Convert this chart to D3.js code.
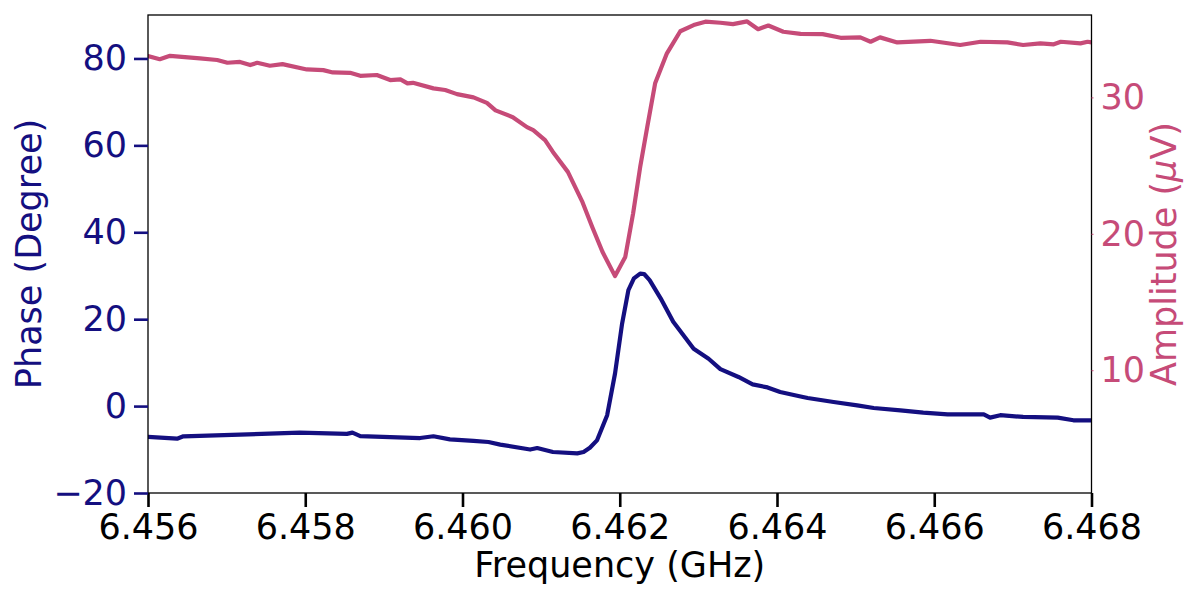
<!DOCTYPE html>
<html>
<head>
<meta charset="utf-8">
<script src="https://cdn.jsdelivr.net/npm/d3@7"></script>
<style>
  body { margin: 0; background: #ffffff; }
  text { font-family: "DejaVu Sans", sans-serif; }
</style>
</head>
<body>
<svg id="chart" width="1200" height="600"></svg>
<script>
// frequency (GHz) and phase (degree)
const phaseFreq = [6.45600, 6.45637, 6.45645, 6.45717, 6.45793, 6.45853, 6.45860, 6.45870, 6.45946,
  6.45963, 6.45984, 6.46014, 6.46033, 6.46048, 6.46086, 6.46095, 6.46115, 6.46146, 6.46154, 6.46162,
  6.46171, 6.46184, 6.46194, 6.46203, 6.46211, 6.46218, 6.46226, 6.46231, 6.46238, 6.46252, 6.46268,
  6.46294, 6.46313, 6.46328, 6.46351, 6.46369, 6.46388, 6.46404, 6.46430, 6.46439, 6.46472, 6.46502,
  6.46523, 6.46557, 6.46586, 6.46617, 6.46663, 6.46671, 6.46684, 6.46713, 6.46757, 6.46777, 6.46800]
const phaseVals = [-7.1, -7.5, -6.95, -6.56, -6.1, -6.4, -6.1, -6.9, -7.35,
  -6.95, -7.65, -8.0, -8.26, -8.86, -10.0, -9.65, -10.57, -10.87, -10.57, -9.6,
  -7.9, -2.1, 7.5, 19.0, 26.7, 29.4, 30.5, 30.4, 29.0, 24.8, 19.4,
  13.2, 10.9, 8.5, 6.7, 5.0, 4.3, 3.25, 2.2, 1.86, 0.94, 0.18,
  -0.44, -0.97, -1.5, -1.9, -1.9, -2.65, -2.1, -2.5, -2.65, -3.27, -3.27]

// frequency (GHz) and amplitude (uV)
const ampFreq = [6.45600, 6.45615, 6.45628, 6.45666, 6.45688, 6.45701, 6.45717, 6.45730, 6.45739,
  6.45755, 6.45771, 6.45802, 6.45823, 6.45835, 6.45857, 6.45870, 6.45891, 6.45908, 6.45921, 6.45930,
  6.45937, 6.45963, 6.45978, 6.45993, 6.46014, 6.46031, 6.46042, 6.46064, 6.46082, 6.46090, 6.46105,
  6.46115, 6.46134, 6.46152, 6.46165, 6.46178, 6.46194, 6.46207, 6.46217, 6.46226, 6.46235, 6.46245,
  6.46260, 6.46277, 6.46294, 6.46309, 6.46328, 6.46344, 6.46362, 6.46376, 6.46389, 6.46408, 6.46430,
  6.46458, 6.46481, 6.46506, 6.46519, 6.46531, 6.46553, 6.46595, 6.46633, 6.46659, 6.46693, 6.46713,
  6.46735, 6.46752, 6.46761, 6.46786, 6.46795, 6.46800]
const ampVals = [33.03, 32.8, 33.05, 32.86, 32.74, 32.54, 32.6, 32.37, 32.54,
  32.32, 32.44, 32.05, 32.0, 31.83, 31.8, 31.58, 31.64, 31.27, 31.32, 31.03,
  31.07, 30.66, 30.54, 30.24, 30.0, 29.6, 29.05, 28.55, 27.82, 27.6, 26.87,
  26.0, 24.54, 22.4, 20.5, 18.68, 16.9, 18.3, 21.5, 24.9, 27.84, 31.03,
  33.23, 34.85, 35.3, 35.55, 35.47, 35.37, 35.57, 35.0, 35.27, 34.81, 34.66,
  34.64, 34.37, 34.4, 34.08, 34.4, 34.03, 34.15, 33.84, 34.08, 34.03, 33.84,
  33.96, 33.89, 34.08, 33.96, 34.08, 34.03]

const xTicks = [6.456, 6.458, 6.460, 6.462, 6.464, 6.466, 6.468]
const phaseTicks = [-20, 0, 20, 40, 60, 80]
const ampTicks = [10, 20, 30]

const phaseColor = '#140f80'
const ampColor = '#c64b78'
const fontSize = '35px'

const svg = d3.select('#chart')
const plotLeft = 148, plotRight = 1091.5, plotTop = 15, plotBottom = 493

const x = d3.scaleLinear().domain([6.456, 6.468]).range([plotLeft, plotRight])
const yPhase = d3.scaleLinear().domain([-20, 90]).range([plotBottom, plotTop])
const yAmp = d3.scaleLinear().domain([1.0, 36.04]).range([plotBottom, plotTop])

svg.append('clipPath').attr('id', 'plot-clip')
  .append('rect')
  .attr('x', plotLeft).attr('y', plotTop)
  .attr('width', plotRight - plotLeft).attr('height', plotBottom - plotTop)

const plot = svg.append('g').attr('clip-path', 'url(#plot-clip)')

const phaseLine = d3.line()
  .x((d, i) => x(phaseFreq[i]))
  .y(d => yPhase(d))
const ampLine = d3.line()
  .x((d, i) => x(ampFreq[i]))
  .y(d => yAmp(d))

plot.append('path')
  .datum(phaseVals)
  .attr('d', phaseLine)
  .attr('fill', 'none')
  .attr('stroke', phaseColor)
  .attr('stroke-width', 4.2)
  .attr('stroke-linejoin', 'round')
  .attr('stroke-linecap', 'round')

plot.append('path')
  .datum(ampVals)
  .attr('d', ampLine)
  .attr('fill', 'none')
  .attr('stroke', ampColor)
  .attr('stroke-width', 4.2)
  .attr('stroke-linejoin', 'round')
  .attr('stroke-linecap', 'round')

// frame
svg.append('rect')
  .attr('x', plotLeft).attr('y', plotTop)
  .attr('width', plotRight - plotLeft).attr('height', plotBottom - plotTop)
  .attr('fill', 'none')
  .attr('stroke', '#000')
  .attr('stroke-width', 1.3)

const fmtMinus = d => d < 0 ? '\u2212' + Math.abs(d) : String(d)

// bottom axis
const xAxis = d3.axisBottom(x).tickValues(xTicks).tickFormat(d3.format('.3f'))
  .tickSize(14).tickPadding(7)
const gx = svg.append('g').attr('transform', `translate(0,${plotBottom})`).call(xAxis)
gx.select('.domain').remove()
gx.selectAll('line').attr('stroke', '#000').attr('stroke-width', 2.6)
gx.selectAll('text').attr('fill', '#000')
  .style('font-size', fontSize).style('font-family', '"DejaVu Sans", sans-serif')

// left axis
const yAxisL = d3.axisLeft(yPhase).tickValues(phaseTicks).tickFormat(fmtMinus)
  .tickSize(14).tickPadding(7)
const gl = svg.append('g').attr('transform', `translate(${plotLeft},0)`).call(yAxisL)
gl.select('.domain').remove()
gl.selectAll('line').attr('stroke', phaseColor).attr('stroke-width', 2.6)
gl.selectAll('text').attr('fill', phaseColor)
  .style('font-size', fontSize).style('font-family', '"DejaVu Sans", sans-serif')

// right axis
const yAxisR = d3.axisRight(yAmp).tickValues(ampTicks)
  .tickSize(2).tickPadding(7)
const gr = svg.append('g').attr('transform', `translate(${plotRight},0)`).call(yAxisR)
gr.select('.domain').remove()
gr.selectAll('line').attr('stroke', ampColor).attr('stroke-width', 1)
gr.selectAll('text').attr('fill', ampColor)
  .style('font-size', fontSize).style('font-family', '"DejaVu Sans", sans-serif')

// axis labels
svg.append('text')
  .attr('x', (plotLeft + plotRight) / 2).attr('y', 577)
  .attr('text-anchor', 'middle')
  .attr('fill', '#000')
  .style('font-size', fontSize)
  .text('Frequency (GHz)')

svg.append('text')
  .attr('transform', `translate(41,${(plotTop + plotBottom) / 2}) rotate(-90)`)
  .attr('text-anchor', 'middle')
  .attr('fill', phaseColor)
  .style('font-size', fontSize)
  .text('Phase (Degree)')

const ampLabel = svg.append('text')
  .attr('transform', `translate(1176,${(plotTop + plotBottom) / 2}) rotate(-90)`)
  .attr('text-anchor', 'middle')
  .attr('fill', ampColor)
  .style('font-size', fontSize)
ampLabel.append('tspan').text('Amplitude (')
ampLabel.append('tspan').style('font-style', 'italic').text('\u03bc')
ampLabel.append('tspan').text('V)')
</script>
</body>
</html>
